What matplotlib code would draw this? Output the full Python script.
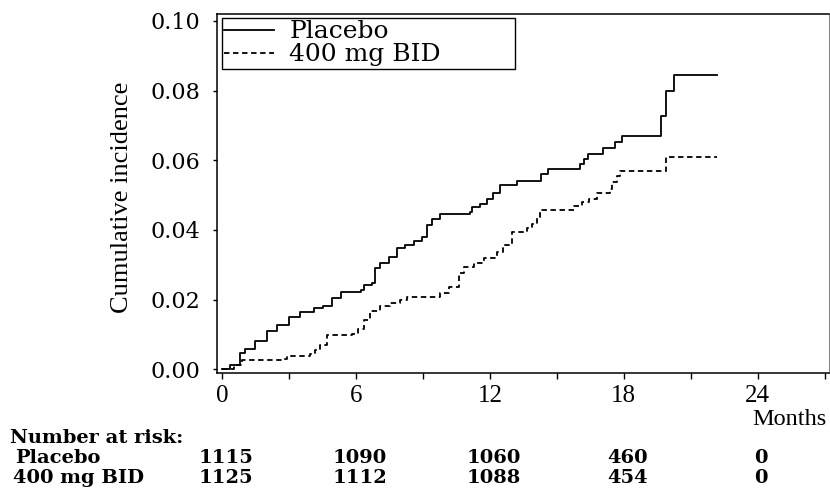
import matplotlib
matplotlib.use("Agg")
import matplotlib.pyplot as plt
from matplotlib.ticker import MultipleLocator, FixedLocator
import matplotlib.transforms as mtransforms

# ---- data ----
placebo_t = [0, 0.36, 0.81, 1.03, 1.48, 2.0, 2.45, 2.97, 3.5, 4.1, 4.5, 4.92, 5.3,
             6.2, 6.34, 6.71, 6.86, 7.08, 7.46, 7.83, 8.2, 8.58, 8.95, 9.18, 9.4,
             9.78, 11.1, 11.2, 11.57, 11.85, 12.15, 12.45, 13.2, 14.3, 14.6, 16.05,
             16.2, 16.4, 17.05, 17.6, 17.9, 19.67, 19.9, 20.24, 22.2]
placebo_v = [0, 0.0013, 0.0047, 0.0057, 0.008, 0.0109, 0.0126, 0.0151, 0.0164,
             0.0177, 0.018, 0.0204, 0.0223, 0.0228, 0.0242, 0.0247, 0.029, 0.0304,
             0.0323, 0.0347, 0.0358, 0.0368, 0.038, 0.0413, 0.0432, 0.0447, 0.0451,
             0.0466, 0.0475, 0.049, 0.0505, 0.0529, 0.0539, 0.0561, 0.0575, 0.059,
             0.0604, 0.0618, 0.0634, 0.0651, 0.067, 0.0728, 0.0799, 0.0844, 0.0844]

bid_t = [0, 0.5, 0.88, 2.68, 2.9, 3.95, 4.17, 4.4, 4.7, 5.8, 6.1, 6.34, 6.64, 7.08,
         7.53, 7.98, 8.28, 9.78, 10.15, 10.6, 10.82, 11.27, 11.72, 12.32, 12.6,
         12.99, 13.66, 13.9, 14.1, 14.26, 15.75, 16.13, 16.43, 16.8, 17.4, 17.47,
         17.7, 17.85, 19.9, 22.2]
bid_v = [0, 0.0013, 0.0025, 0.0028, 0.0037, 0.0044, 0.0056, 0.007, 0.0097, 0.0101,
         0.0116, 0.0142, 0.0166, 0.018, 0.0189, 0.0199, 0.0206, 0.0218, 0.0237,
         0.0275, 0.0294, 0.0304, 0.0318, 0.0337, 0.0356, 0.0394, 0.0404, 0.0418,
         0.0437, 0.0456, 0.047, 0.048, 0.049, 0.0506, 0.0518, 0.0537, 0.0556,
         0.057, 0.0609, 0.0609]

series_labels = ["Placebo", "400 mg BID"]
x_ticks = [0, 6, 12, 18, 24]
y_ticks = [0.00, 0.02, 0.04, 0.06, 0.08, 0.10]
risk_times = [0, 6, 12, 18, 24]
risk_placebo = [1115, 1090, 1060, 460, 0]
risk_bid = [1125, 1112, 1088, 454, 0]

# ---- figure ----
W, H = 830, 488
fig = plt.figure(figsize=(W / 100, H / 100), dpi=100)
L, R, T, B = 217, 829, 14, 373
ax = fig.add_axes([L / W, 1 - B / H, (R - L) / W, (B - T) / H])

ax.step(placebo_t, placebo_v, where="post", color="black", lw=1.3,
        label=series_labels[0])
ax.step(bid_t, bid_v, where="post", color="black", lw=1.3,
        linestyle=(0, (3, 2)), label=series_labels[1])

ax.set_xlim(-0.24, 27.2)
ax.set_ylim(-0.0011, 0.102)

serif_wide = "DejaVu Serif"
serif_times = "Liberation Serif"

ax.xaxis.set_major_locator(FixedLocator(x_ticks))
ax.xaxis.set_minor_locator(MultipleLocator(3))
ax.set_xticks(x_ticks)
ax.set_xticklabels([str(v) for v in x_ticks], family=serif_times, fontsize=18)
ax.set_yticks(y_ticks)
ax.set_yticklabels([f"{v:.2f}" for v in y_ticks], family=serif_wide, fontsize=16)

ax.tick_params(axis="x", which="major", direction="out", length=4, width=1, pad=5)
ax.tick_params(axis="x", which="minor", direction="out", length=4, width=1)
ax.tick_params(axis="y", which="major", direction="out", length=3, width=1, pad=9)

for s in ["left", "bottom", "top"]:
    ax.spines[s].set_linewidth(1.1)
    ax.spines[s].set_color("black")
ax.spines["right"].set_linewidth(0.8)
ax.spines["right"].set_color("#888888")

ax.set_ylabel("Cumulative incidence", family=serif_times, fontsize=19)
ax.yaxis.set_label_coords(-0.138, 0.49)

leg = ax.legend(loc="upper left", bbox_to_anchor=(0.0077, 0.0, 0.479, 0.989),
                mode="expand", prop={"family": serif_wide, "size": 18},
                frameon=True, fancybox=False, edgecolor="black", framealpha=1,
                borderpad=0.1, labelspacing=0.0, handlelength=2.0,
                handletextpad=0.6, borderaxespad=0)
leg.get_frame().set_linewidth(1.0)

# x-axis unit label
fig.text(827 / W, 1 - 425 / H, "Months", ha="right", va="baseline",
         family=serif_times, fontsize=17.5)

# Number at risk table
trans = mtransforms.blended_transform_factory(ax.transData, fig.transFigure)
tbl_font = dict(family=serif_wide, fontsize=14, fontweight="bold")
fig.text(10 / W, 1 - 443 / H, "Number at risk:", ha="left", va="baseline", **tbl_font)
fig.text(15 / W, 1 - 463 / H, series_labels[0], ha="left", va="baseline", **tbl_font)
fig.text(13 / W, 1 - 483 / H, series_labels[1], ha="left", va="baseline", **tbl_font)
for t, n1, n2 in zip(risk_times, risk_placebo, risk_bid):
    ax.text(t + 0.15, 1 - 463 / H, str(n1), transform=trans, ha="center",
            va="baseline", clip_on=False, **tbl_font)
    ax.text(t + 0.15, 1 - 483 / H, str(n2), transform=trans, ha="center",
            va="baseline", clip_on=False, **tbl_font)

fig.savefig("out.png", dpi=100)
